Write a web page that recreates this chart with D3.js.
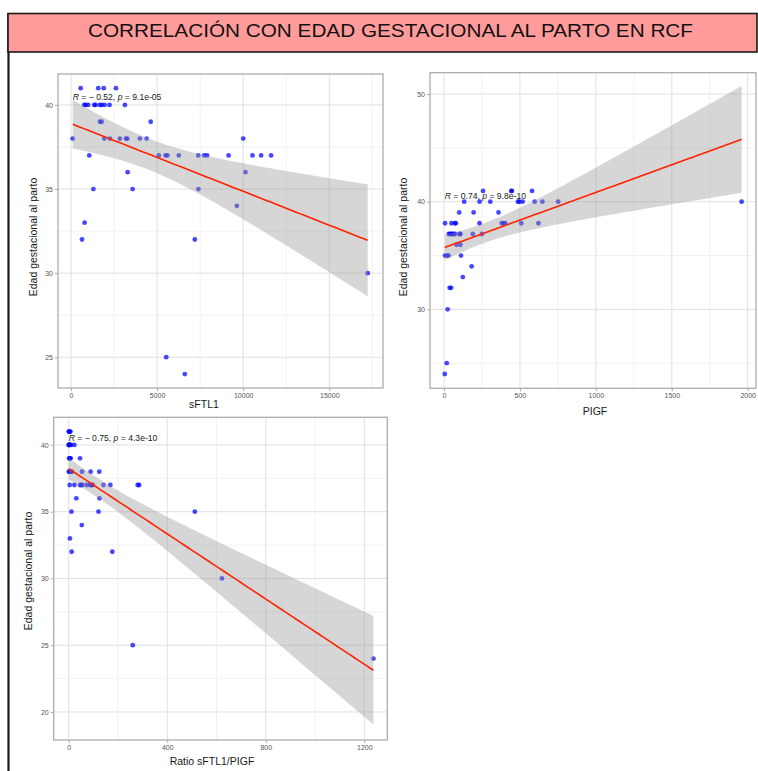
<!DOCTYPE html>
<html>
<head>
<meta charset="utf-8">
<script src="https://cdn.jsdelivr.net/npm/d3@7"></script>
<style>
  body { margin: 0; background: #fff; }
  svg { display: block; font-family: "Liberation Sans", Arial, Helvetica, sans-serif; }
</style>
</head>
<body>
<svg id="chart" width="758" height="771"></svg>
<script>
// ---- Texts ----
const mainTitle = "CORRELACIÓN CON EDAD GESTACIONAL AL PARTO EN RCF";
const yAxisTitle = "Edad gestacional al parto";

// ---- sFTL1 vs gestational age at delivery ----
const sftl1Values = [560, 1580, 1900, 2610,
  770, 850, 1000, 1350, 1430, 1680, 1780, 1950, 2240, 3130,
  1680, 1780, 4630,
  100, 1930, 2260, 2840, 3190, 3270, 4000, 4390, 10000,
  1060, 5100, 5490, 5600, 6260, 7390, 7730, 7900, 9150, 10540, 11040, 11620,
  3290, 10130,
  1300, 3580, 7400,
  9630, 790, 640, 7190, 17230, 5530, 6610];
const sftl1Edad = [41, 41, 41, 41,
  40, 40, 40, 40, 40, 40, 40, 40, 40, 40,
  39, 39, 39,
  38, 38, 38, 38, 38, 38, 38, 38, 38,
  37, 37, 37, 37, 37, 37, 37, 37, 37, 37, 37, 37,
  36, 36,
  35, 35, 35,
  34, 33, 32, 32, 30, 25, 24];
const sftl1Ticks = [0, 5000, 10000, 15000];
const sftl1Stat = { r: "\u2212 0.52", p: "9.1e-05" };

// ---- PlGF vs gestational age at delivery ----
const plgfValues = [257, 443, 447, 580,
  133, 234, 305, 487, 496, 518, 597, 648, 752, 1960,
  100, 195, 359,
  7, 49, 71, 78, 234, 380, 392, 403, 509, 622,
  31, 40, 48, 55, 64, 73, 102, 108, 190, 250,
  82, 108,
  7, 22, 29, 112,
  182, 124, 37, 47, 24, 18, 5];
const plgfEdad = [41, 41, 41, 41,
  40, 40, 40, 40, 40, 40, 40, 40, 40, 40,
  39, 39, 39,
  38, 38, 38, 38, 38, 38, 38, 38, 38, 38,
  37, 37, 37, 37, 37, 37, 37, 37, 37, 37,
  36, 36,
  35, 35, 35, 35,
  34, 33, 32, 32, 30, 25, 24];
const plgfTicks = [0, 500, 1000, 1500, 2000];
const plgfStat = { r: "0.74", p: "9.8e-10" };

// ---- sFTL1/PlGF ratio vs gestational age at delivery ----
const ratioValues = [0, 2, 4, 7,
  0, 1, 2, 3, 4, 5, 9, 23,
  2, 4, 8, 46,
  1, 2, 7, 9, 13, 54, 89, 124,
  4, 23, 46, 51, 55, 73, 86, 94, 97, 141, 169, 280, 286,
  31, 125,
  11, 121, 512,
  53, 5, 12, 177, 622, 260, 1237];
const ratioEdad = [41, 41, 41, 41,
  40, 40, 40, 40, 40, 40, 40, 40,
  39, 39, 39, 39,
  38, 38, 38, 38, 38, 38, 38, 38,
  37, 37, 37, 37, 37, 37, 37, 37, 37, 37, 37, 37, 37,
  36, 36,
  35, 35, 35,
  34, 33, 32, 32, 30, 25, 24];
const ratioTicks = [0, 400, 800, 1200];
const ratioStat = { r: "\u2212 0.75", p: "4.3e-10" };

const svg = d3.select("#chart");

// ---- Header band and page frame ----
svg.append("rect").attr("x", 0).attr("y", 0).attr("width", 758).attr("height", 771).attr("fill", "#fff");
svg.append("line")
  .attr("x1", 8.5).attr("x2", 8.5).attr("y1", 13).attr("y2", 771)
  .attr("stroke", "#1a1a1a").attr("stroke-width", 2.2);
svg.append("rect")
  .attr("x", 8).attr("y", 13.5).attr("width", 749).attr("height", 38.5)
  .attr("fill", "#ff9b9b").attr("stroke", "#1a1a1a").attr("stroke-width", 1.6);
svg.append("text")
  .attr("x", 88).attr("y", 36.8)
  .attr("textLength", 605).attr("lengthAdjust", "spacingAndGlyphs")
  .attr("font-family", "'Liberation Sans Narrow', 'Liberation Sans', Arial, sans-serif")
  .attr("font-size", 18.7).attr("fill", "#111")
  .text(mainTitle);

// Student t quantile (0.975) via Cornish-Fisher expansion
function t975(df) {
  const z = 1.959964;
  return z + (z ** 3 + z) / (4 * df) + (5 * z ** 5 + 16 * z ** 3 + 3 * z) / (96 * df * df);
}

// Least-squares fit with 95% confidence band of the mean
function linearFit(xs, ys) {
  const n = xs.length;
  const mx = d3.mean(xs), my = d3.mean(ys);
  let sxx = 0, sxy = 0;
  for (let i = 0; i < n; i++) { sxx += (xs[i] - mx) ** 2; sxy += (xs[i] - mx) * (ys[i] - my); }
  const b = sxy / sxx, a = my - b * mx;
  let sse = 0;
  for (let i = 0; i < n; i++) sse += (ys[i] - a - b * xs[i]) ** 2;
  const s = Math.sqrt(sse / (n - 2));
  const t = t975(n - 2);
  const [lo, hi] = d3.extent(xs);
  const grid = d3.range(80).map(i => lo + (hi - lo) * i / 79);
  return grid.map(x => {
    const fit = a + b * x;
    const se = s * Math.sqrt(1 / n + (x - mx) ** 2 / sxx);
    return { x, fit, lower: fit - t * se, upper: fit + t * se };
  });
}

function drawPanel(cfg) {
  const g = svg.append("g");
  const x = d3.scaleLinear().domain(cfg.xDomain).range([cfg.left, cfg.right]);
  const y = d3.scaleLinear().domain(cfg.yDomain).range([cfg.bottom, cfg.top]);
  const w = cfg.right - cfg.left, h = cfg.bottom - cfg.top;

  // minor grid
  g.selectAll(null).data(cfg.xMinor).join("line")
    .attr("x1", d => x(d)).attr("x2", d => x(d)).attr("y1", cfg.top).attr("y2", cfg.bottom)
    .attr("stroke", "#efefef").attr("stroke-width", 0.8);
  g.selectAll(null).data(cfg.yMinor).join("line")
    .attr("y1", d => y(d)).attr("y2", d => y(d)).attr("x1", cfg.left).attr("x2", cfg.right)
    .attr("stroke", "#efefef").attr("stroke-width", 0.8);
  // major grid
  g.selectAll(null).data(cfg.xTicks).join("line")
    .attr("x1", d => x(d)).attr("x2", d => x(d)).attr("y1", cfg.top).attr("y2", cfg.bottom)
    .attr("stroke", "#e0e0e0").attr("stroke-width", 1);
  g.selectAll(null).data(cfg.yTicks).join("line")
    .attr("y1", d => y(d)).attr("y2", d => y(d)).attr("x1", cfg.left).attr("x2", cfg.right)
    .attr("stroke", "#e0e0e0").attr("stroke-width", 1);

  // points
  g.selectAll(null).data(d3.range(cfg.xs.length)).join("circle")
    .attr("cx", i => x(cfg.xs[i])).attr("cy", i => y(cfg.ys[i])).attr("r", 2.4)
    .attr("fill", "#0000ff").attr("fill-opacity", 0.72);

  // regression band and line
  const fit = linearFit(cfg.xs, cfg.ys);
  g.append("path").datum(fit)
    .attr("d", d3.area().x(d => x(d.x)).y0(d => y(d.lower)).y1(d => y(d.upper)))
    .attr("fill", "#999999").attr("fill-opacity", 0.4);
  g.append("path").datum(fit)
    .attr("d", d3.line().x(d => x(d.x)).y(d => y(d.fit)))
    .attr("fill", "none").attr("stroke", "#ff2200").attr("stroke-width", 1.6);

  // correlation label
  const lab = g.append("text")
    .attr("x", x(d3.min(cfg.xs))).attr("y", y(40.5))
    .attr("dominant-baseline", "central")
    .attr("font-size", 8.6).attr("fill", "#1a1a1a");
  lab.append("tspan").attr("font-style", "italic").text("R");
  lab.append("tspan").text(" = " + cfg.stat.r + ", ");
  lab.append("tspan").attr("font-style", "italic").text("p");
  lab.append("tspan").text(" = " + cfg.stat.p);

  // panel border
  g.append("rect").attr("x", cfg.left).attr("y", cfg.top).attr("width", w).attr("height", h)
    .attr("fill", "none").attr("stroke", "#adadad").attr("stroke-width", 1.3);

  // axes
  const xAxis = g.append("g").attr("transform", `translate(0,${cfg.bottom})`)
    .call(d3.axisBottom(x).tickValues(cfg.xTicks).tickSize(3).tickPadding(2).tickFormat(d3.format("d")));
  const yAxis = g.append("g").attr("transform", `translate(${cfg.left},0)`)
    .call(d3.axisLeft(y).tickValues(cfg.yTicks).tickSize(3).tickPadding(2).tickFormat(d3.format("d")));
  [xAxis, yAxis].forEach(ax => {
    ax.select(".domain").remove();
    ax.selectAll(".tick line").attr("stroke", "#adadad");
    ax.selectAll(".tick text").attr("fill", "#555").attr("font-size", 7)
      .attr("font-family", "'Liberation Sans', Arial, sans-serif");
  });

  // axis titles
  g.append("text").attr("x", cfg.xTitlePos[0]).attr("y", cfg.xTitlePos[1])
    .attr("text-anchor", "middle").attr("dominant-baseline", "central")
    .attr("font-size", 10.5).attr("fill", "#1a1a1a").text(cfg.xTitle);
  g.append("text")
    .attr("transform", `translate(${cfg.yTitlePos[0]},${cfg.yTitlePos[1]}) rotate(-90)`)
    .attr("text-anchor", "middle").attr("dominant-baseline", "central")
    .attr("font-size", 10.5).attr("fill", "#1a1a1a").text(yAxisTitle);
}

drawPanel({
  left: 58, right: 383, top: 74, bottom: 388,
  xDomain: [-755, 18118], yDomain: [23.17, 41.84],
  xTicks: sftl1Ticks, xMinor: [2500, 7500, 12500, 17500],
  yTicks: [25, 30, 35, 40], yMinor: [27.5, 32.5, 37.5],
  xs: sftl1Values, ys: sftl1Edad, stat: sftl1Stat,
  xTitle: "sFTL1", xTitlePos: [204, 403.5], yTitlePos: [33, 237]
});

drawPanel({
  left: 430, right: 756, top: 72.7, bottom: 388.3,
  xDomain: [-92.2, 2054.6], yDomain: [22.67, 51.98],
  xTicks: plgfTicks, xMinor: [250, 750, 1250, 1750],
  yTicks: [30, 40, 50], yMinor: [25, 35, 45],
  xs: plgfValues, ys: plgfEdad, stat: plgfStat,
  xTitle: "PIGF", xTitlePos: [595, 411], yTitlePos: [403, 237]
});

drawPanel({
  left: 53.7, right: 387.3, top: 417.3, bottom: 740,
  xDomain: [-60.9, 1293.4], yDomain: [17.9, 42.07],
  xTicks: ratioTicks, xMinor: [200, 600, 1000],
  yTicks: [20, 25, 30, 35, 40], yMinor: [22.5, 27.5, 32.5, 37.5],
  xs: ratioValues, ys: ratioEdad, stat: ratioStat,
  xTitle: "Ratio sFTL1/PIGF", xTitlePos: [212, 761], yTitlePos: [28, 571]
});
</script>
</body>
</html>
